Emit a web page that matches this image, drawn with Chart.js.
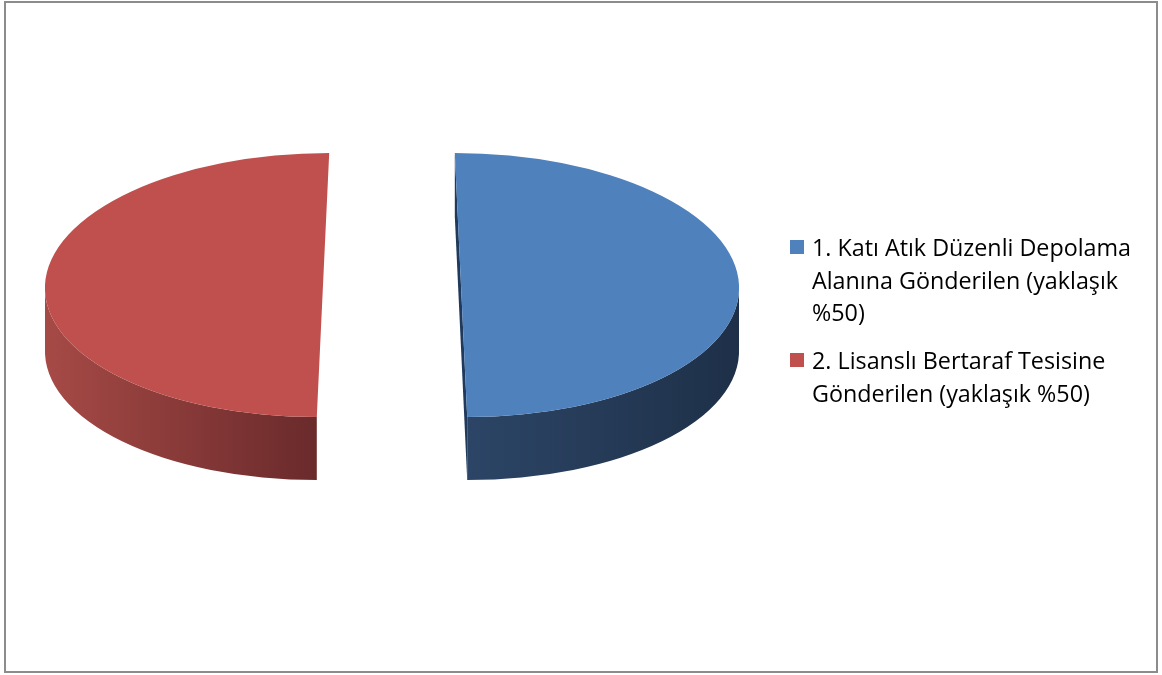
<!DOCTYPE html>
<html>
<head>
<meta charset="utf-8">
<script src="https://cdn.jsdelivr.net/npm/chart.js@4.4.0/dist/chart.umd.min.js"></script>
<style>
  html, body { margin: 0; padding: 0; background: #fff; }
  body { width: 1162px; height: 675px; position: relative; overflow: hidden; font-family: 'Open Sans', Lato, sans-serif; }
  #frame { position: absolute; left: 4px; top: 1px; width: 1150px; height: 668px; border: 2px solid #8c8c8c; }
  #pie { position: absolute; left: 0; top: 0; }
  .item { position: absolute; left: 790px; white-space: nowrap; }
  .box { position: absolute; left: 0; width: 14px; height: 14px; }
  .txt { position: absolute; left: 22px; top: 0; font-size: 23.3px; line-height: 32.7px; color: #000; }
</style>
</head>
<body>
<div id="frame"></div>
<canvas id="pie" width="1162" height="675"></canvas>
<div id="legend"></div>
<script>
const labels = [
  ['1. Katı Atık Düzenli Depolama', 'Alanına Gönderilen (yaklaşık', '%50)'],
  ['2. Lisanslı Bertaraf Tesisine', 'Gönderilen (yaklaşık %50)']
]
const values = [50, 50]
const topColors = ['#4f81bd', '#c0504d']
const sideColors = [['#2c4566', '#1e3048'], ['#a64a46', '#6a2a2b']]
const faceColors = ['#1f3a5c', null]

const TILT = 0.475
const DEPTH = 63
const EXPLODE = 69
const PERSPECTIVE = 0.047
const legendTops = [231, 344]

// draws the slices as a tilted, exploded 3d pie
const pie3d = {
  id: 'pie3d',
  beforeDatasetsDraw(chart) {
    const ctx = chart.ctx
    const arcs = chart.getDatasetMeta(0).data
    const parts = arcs.map((arc, i) => {
      const mid = (arc.startAngle + arc.endAngle) / 2
      return {
        arc, i,
        ox: arc.x + Math.cos(mid) * EXPLODE,
        oy: arc.y + Math.sin(mid) * EXPLODE * TILT,
        rx: arc.outerRadius,
        ry: arc.outerRadius * TILT,
        s: PERSPECTIVE * Math.sign(Math.cos(mid))
      }
    })
    const pt = (p, t, dy) => [p.ox + p.rx * Math.cos(t) + p.s * p.ry * Math.sin(t), p.oy + p.ry * Math.sin(t) + dy]

    // cut faces
    parts.forEach(p => {
      if (!faceColors[p.i]) return
      ;[p.arc.startAngle, p.arc.endAngle].forEach(t => {
        const [ex, ey] = pt(p, t, 0)
        ctx.beginPath()
        ctx.moveTo(p.ox, p.oy)
        ctx.lineTo(ex, ey)
        ctx.lineTo(ex, ey + DEPTH)
        ctx.lineTo(p.ox, p.oy + DEPTH)
        ctx.closePath()
        ctx.fillStyle = faceColors[p.i]
        ctx.fill()
      })
    })

    // front walls
    parts.forEach(p => {
      for (const base of [-2 * Math.PI, 0, 2 * Math.PI]) {
        const a = Math.max(p.arc.startAngle, base)
        const b = Math.min(p.arc.endAngle, base + Math.PI)
        if (b <= a) continue
        const xl = pt(p, b, 0)[0]
        const xr = pt(p, a, 0)[0]
        const grad = ctx.createLinearGradient(Math.min(xl, xr), 0, Math.max(xl, xr), 0)
        grad.addColorStop(0, sideColors[p.i][0])
        grad.addColorStop(1, sideColors[p.i][1])
        ctx.beginPath()
        ctx.save()
        ctx.translate(p.ox, p.oy)
        ctx.transform(1, 0, p.s, 1, 0, 0)
        ctx.ellipse(0, 0, p.rx, p.ry, 0, a, b)
        ctx.restore()
        ctx.save()
        ctx.translate(p.ox, p.oy + DEPTH)
        ctx.transform(1, 0, p.s, 1, 0, 0)
        ctx.ellipse(0, 0, p.rx, p.ry, 0, b, a, true)
        ctx.restore()
        ctx.closePath()
        ctx.fillStyle = grad
        ctx.fill()
      }
    })

    // top faces, squashed arcs
    parts.forEach(p => {
      ctx.save()
      ctx.translate(p.ox, p.oy)
      ctx.transform(1, 0, p.s, 1, 0, 0)
      ctx.scale(1, TILT)
      ctx.translate(-p.arc.x, -p.arc.y)
      p.arc.draw(ctx)
      ctx.restore()
    })
    return false
  }
}

const chart = new Chart(document.getElementById('pie'), {
  type: 'pie',
  data: {
    labels: labels,
    datasets: [{
      data: values,
      backgroundColor: topColors,
      borderWidth: 0
    }]
  },
  options: {
    responsive: false,
    animation: false,
    radius: 278,
    layout: { padding: { left: 0, right: 378, top: 0, bottom: 105 } },
    plugins: {
      legend: { display: false },
      tooltip: { enabled: false }
    }
  },
  plugins: [pie3d]
})

const legend = document.getElementById('legend')
labels.forEach((lines, i) => {
  const item = document.createElement('div')
  item.className = 'item'
  item.style.top = legendTops[i] + 'px'
  const box = document.createElement('span')
  box.className = 'box'
  box.style.background = topColors[i]
  box.style.top = '9px'
  const txt = document.createElement('div')
  txt.className = 'txt'
  txt.innerHTML = lines.join('<br>')
  item.appendChild(box)
  item.appendChild(txt)
  legend.appendChild(item)
})
</script>
</body>
</html>
